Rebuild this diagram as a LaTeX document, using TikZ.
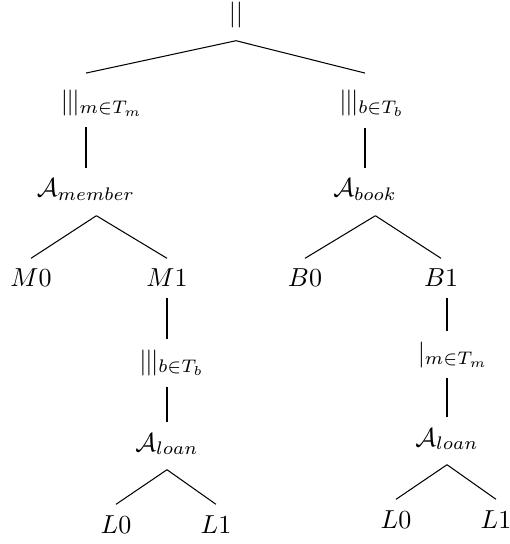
\documentclass[tikz,border=0pt]{standalone}
\usepackage{tikz}
\usetikzlibrary{positioning}
\newcommand{\ppp}{|\mkern-1mu|\mkern-1mu|}

\begin{document}
\begin{tikzpicture}[x=0.01352cm,y=-0.01352cm]
  \tikzstyle{t}=[inner sep=4pt,anchor=base]
  \tikzstyle{a}=[t,text depth=3pt]
  \useasboundingbox(0,0)rectangle(509,544);
  \node[t,inner sep=0pt,text depth=7pt](root)at(236,22){$||$};
  \node[t,text height=10pt](lm)at(102,110){$\ppp_{m\in T_m}$};
  \node[t,text height=10pt](lb)at(372,110){$\ppp_{b\in T_b}$};
  \node[a](amem)at(86,197){$\mathcal{A}_{member}$};
  \node[a](abook)at(365,197){$\mathcal{A}_{book}$};
  \node[t](m0)at(31,287){$M0$};
  \node[t](m1)at(167,287){$M1$};
  \node[t](b0)at(305,287){$B0$};
  \node[t](b1)at(441,287){$B1$};
  \node[t](lb2)at(172,369){$\ppp_{b\in T_b}$};
  \node[t](lm2)at(453,361){$|_{m\in T_m}$};
  \node[a](al1)at(167,451){$\mathcal{A}_{loan}$};
  \node[a](al2)at(447,446){$\mathcal{A}_{loan}$};
  \node[t](l10)at(116,533){$L0$};
  \node[t](l11)at(216,533){$L1$};
  \node[t](l20)at(396,528){$L0$};
  \node[t](l21)at(496,528){$L1$};
  \foreach\o/\d/\a in{root/lm/amem,root/lb/abook}{\draw(\o.south)--(\d.north-|\a);}
  \foreach\o/\d/\a in{lm/amem/amem,lb/abook/abook,m1/lb2/al1,lb2/al1/al1,b1/lm2/al2,lm2/al2/al2}{\draw(\o.south-|\a)--(\d.north-|\a);}
  \foreach\o/\d in{amem/m0,amem/m1,abook/b0,abook/b1}{\draw([xshift=4pt]\o.south)--(\d.north);}
  \foreach\o/\d in{al1/l10,al1/l11,al2/l20,al2/l21}{\draw(\o.south)--(\d.north);}
\end{tikzpicture}
\end{document}
